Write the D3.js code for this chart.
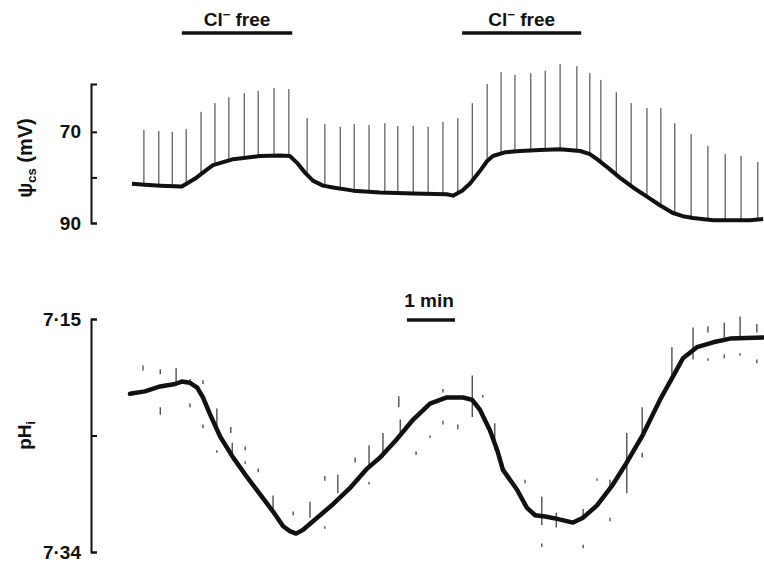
<!DOCTYPE html>
<html>
<head>
<meta charset="utf-8">
<script src="https://cdn.jsdelivr.net/npm/d3@7.9.0/dist/d3.min.js"></script>
<style>
  html, body { margin: 0; padding: 0; background: #fff; }
  svg { display: block; }
  text { font-family: "Liberation Sans", Arial, sans-serif; font-weight: bold; fill: #111; }
</style>
</head>
<body>
<div id="chart"></div>
<script>
// time in minutes, membrane potential in mV (psi_cs), pHi
const psiTrace = [
  [0.04, 81.4], [0.31, 81.6], [0.63, 81.8], [1.08, 82.0], [1.35, 80.3], [1.56, 78.6],
  [1.73, 77.3], [2.15, 76.0], [2.71, 75.3], [3.13, 75.2], [3.33, 75.3], [3.48, 76.8],
  [3.65, 79.0], [3.81, 80.7], [4.02, 81.8], [4.23, 82.2], [4.65, 82.9], [5.21, 83.3],
  [5.90, 83.5], [6.60, 83.7], [6.73, 84.0], [6.92, 82.9], [7.08, 81.4], [7.29, 78.6],
  [7.44, 76.4], [7.56, 75.3], [7.81, 74.5], [8.13, 74.2], [8.54, 74.0], [8.96, 73.8],
  [9.38, 74.2], [9.58, 74.9], [9.73, 76.0], [9.96, 77.9], [10.21, 80.1], [10.48, 82.2],
  [10.77, 84.2], [11.04, 86.1], [11.31, 87.8], [11.52, 88.5], [11.73, 88.9], [12.15, 89.4],
  [12.56, 89.4], [12.92, 89.4], [13.19, 89.1]
];

// spike tips (time, mV) — each spike runs down to the trace
const psiSpikes = [
  [0.29, 69.6], [0.60, 69.8], [0.88, 70.0], [1.17, 69.4], [1.48, 65.6], [1.77, 63.7],
  [2.06, 62.4], [2.38, 61.5], [2.67, 61.0], [3.00, 60.4], [3.31, 60.6], [3.69, 67.0],
  [4.06, 68.3], [4.38, 68.9], [4.67, 68.3], [4.98, 68.5], [5.31, 68.1], [5.58, 68.7],
  [5.90, 68.7], [6.21, 68.9], [6.52, 67.8], [6.83, 67.0], [7.13, 63.7], [7.44, 59.5],
  [7.73, 56.9], [8.02, 57.5], [8.35, 57.1], [8.65, 56.6], [8.96, 55.1], [9.31, 55.6],
  [9.58, 57.1], [9.81, 58.6], [10.13, 61.3], [10.44, 63.7], [10.77, 64.8], [11.06, 64.8],
  [11.35, 68.1], [11.69, 70.5], [12.04, 73.1], [12.40, 74.9], [12.73, 75.3], [13.08, 76.6]
];

const phTrace = [
  [0.00, 7.211], [0.31, 7.209], [0.63, 7.205], [0.94, 7.203], [1.08, 7.201], [1.25, 7.202],
  [1.40, 7.206], [1.52, 7.214], [1.67, 7.228], [1.88, 7.246], [2.15, 7.263], [2.44, 7.279],
  [2.71, 7.293], [2.98, 7.307], [3.19, 7.319], [3.33, 7.323], [3.46, 7.325], [3.60, 7.322],
  [3.90, 7.312], [4.23, 7.301], [4.58, 7.288], [4.94, 7.272], [5.21, 7.263], [5.56, 7.248],
  [5.90, 7.232], [6.25, 7.219], [6.60, 7.214], [6.94, 7.214], [7.13, 7.216], [7.29, 7.224],
  [7.50, 7.241], [7.65, 7.257], [7.77, 7.273], [8.06, 7.289], [8.27, 7.304], [8.44, 7.310],
  [8.65, 7.311], [8.90, 7.313], [9.23, 7.316], [9.44, 7.312], [9.73, 7.302], [10.06, 7.285],
  [10.35, 7.267], [10.69, 7.244], [11.04, 7.216], [11.31, 7.197], [11.52, 7.182], [11.81, 7.173],
  [12.15, 7.169], [12.50, 7.166], [13.19, 7.165]
];

// short artefact marks on the pH record (time, pH from, pH to)
const phMarks = [
  [0.27, 7.188, 7.192], [0.63, 7.191, 7.195], [0.63, 7.222, 7.228], [0.96, 7.190, 7.204],
  [1.25, 7.199, 7.201], [1.25, 7.219, 7.222], [1.52, 7.200, 7.203], [1.52, 7.236, 7.239],
  [1.81, 7.223, 7.238], [1.81, 7.257, 7.259], [2.10, 7.238, 7.243], [2.13, 7.251, 7.262],
  [2.40, 7.254, 7.257], [2.40, 7.266, 7.268], [2.67, 7.272, 7.275], [2.98, 7.294, 7.306],
  [3.40, 7.307, 7.310], [3.75, 7.299, 7.312], [4.06, 7.278, 7.282], [4.06, 7.319, 7.321],
  [4.33, 7.277, 7.292], [4.69, 7.263, 7.267], [4.98, 7.253, 7.269], [4.98, 7.283, 7.285],
  [5.27, 7.243, 7.263], [5.60, 7.213, 7.222], [5.63, 7.232, 7.243], [5.96, 7.258, 7.261],
  [6.25, 7.245, 7.247], [6.52, 7.207, 7.210], [6.52, 7.233, 7.236], [6.83, 7.236, 7.240],
  [7.13, 7.196, 7.230], [7.35, 7.212, 7.214], [7.60, 7.235, 7.257], [8.23, 7.281, 7.284],
  [8.58, 7.295, 7.318], [8.58, 7.333, 7.336], [8.88, 7.308, 7.320], [9.44, 7.305, 7.314],
  [9.44, 7.334, 7.337], [9.73, 7.280, 7.282], [10.00, 7.281, 7.289], [10.00, 7.312, 7.315],
  [10.35, 7.243, 7.292], [10.67, 7.222, 7.243], [10.67, 7.259, 7.263], [11.29, 7.173, 7.200],
  [11.73, 7.157, 7.183], [12.04, 7.156, 7.161], [12.04, 7.182, 7.184], [12.38, 7.153, 7.165],
  [12.38, 7.179, 7.182], [12.71, 7.148, 7.165], [12.71, 7.178, 7.180], [13.06, 7.154, 7.161],
  [13.06, 7.183, 7.186]
];

const clFreePeriods = [[1.08, 3.38], [6.92, 9.40]];
const scaleBarStart = 5.77; // 1 min
const psiTicks = [70, 80, 90];
const psiTickLabels = ['70', '', '90'];
const phTicks = [7.15, 7.245, 7.34];
const phTickLabels = ['7·15', '', '7·34'];

const width = 764;
const height = 566;

const svg = d3.select('#chart')
  .append('svg')
  .attr('width', width)
  .attr('height', height);

const x = d3.scaleLinear().domain([0, 13.2]).range([130, 763.6]);
const yPsi = d3.scaleLinear().domain([59.5, 90]).range([84, 223]);
const yPh = d3.scaleLinear().domain([7.15, 7.34]).range([319, 552]);

const axisX = 91;

function styleAxis(g) {
  g.select('.domain').attr('stroke', '#111').attr('stroke-width', 2);
  g.selectAll('.tick line').attr('stroke', '#111').attr('stroke-width', 2);
  g.selectAll('.tick text')
    .attr('font-size', 19)
    .attr('font-family', '"Liberation Sans", Arial, sans-serif')
    .attr('font-weight', 'bold')
    .attr('fill', '#111');
}

svg.append('g')
  .attr('transform', `translate(${axisX},0)`)
  .call(d3.axisLeft(yPsi).tickValues(psiTicks).tickSize(-6).tickPadding(10)
    .tickFormat((d, i) => psiTickLabels[i]))
  .call(styleAxis);

svg.append('g')
  .attr('transform', `translate(${axisX},0)`)
  .call(d3.axisLeft(yPh).tickValues(phTicks).tickSize(-6).tickPadding(10)
    .tickFormat((d, i) => phTickLabels[i]))
  .call(styleAxis);

// axis titles
const psiTitle = svg.append('text')
  .attr('transform', 'translate(32,158) rotate(-90)')
  .attr('text-anchor', 'middle')
  .attr('font-size', 20);
psiTitle.append('tspan').text('ψ');
psiTitle.append('tspan').attr('font-size', 13).attr('dy', 4).text('cs');
psiTitle.append('tspan').attr('dy', -4).text(' (mV)');

const phTitle = svg.append('text')
  .attr('transform', `translate(31,${yPh(7.245)}) rotate(-90)`)
  .attr('text-anchor', 'middle')
  .attr('font-size', 19);
phTitle.append('tspan').text('pH');
phTitle.append('tspan').attr('font-size', 12).attr('dy', 4).text('i');

// Cl- free bars
const bars = svg.append('g');
clFreePeriods.forEach(([t0, t1]) => {
  bars.append('line')
    .attr('x1', x(t0)).attr('x2', x(t1))
    .attr('y1', 33).attr('y2', 33)
    .attr('stroke', '#111').attr('stroke-width', 3.5);
  const lbl = bars.append('text')
    .attr('x', (x(t0) + x(t1)) / 2)
    .attr('y', 26)
    .attr('text-anchor', 'middle')
    .attr('font-size', 19);
  lbl.append('tspan').text('Cl');
  lbl.append('tspan').attr('font-size', 13).attr('dy', -7).text('−');
  lbl.append('tspan').attr('dy', 7).text(' free');
});

// 1 min scale bar
svg.append('line')
  .attr('x1', x(scaleBarStart)).attr('x2', x(scaleBarStart + 1))
  .attr('y1', 320).attr('y2', 320)
  .attr('stroke', '#111').attr('stroke-width', 3.5);
svg.append('text')
  .attr('x', (x(scaleBarStart) + x(scaleBarStart + 1)) / 2 - 2)
  .attr('y', 307)
  .attr('text-anchor', 'middle')
  .attr('font-size', 19)
  .text('1 min');

// psi spikes
const psiAt = (t) => {
  const i = d3.bisector((d) => d[0]).left(psiTrace, t);
  const a = psiTrace[Math.max(0, i - 1)], b = psiTrace[Math.min(psiTrace.length - 1, i)];
  if (a === b) return a[1];
  return a[1] + (b[1] - a[1]) * (t - a[0]) / (b[0] - a[0]);
};

svg.append('g')
  .selectAll('line')
  .data(psiSpikes)
  .join('line')
  .attr('x1', (d) => x(d[0])).attr('x2', (d) => x(d[0]))
  .attr('y1', (d) => yPsi(d[1]))
  .attr('y2', (d) => yPsi(psiAt(d[0])))
  .attr('stroke', '#333')
  .attr('stroke-width', 1);

svg.append('path')
  .datum(psiTrace)
  .attr('d', d3.line().x((d) => x(d[0])).y((d) => yPsi(d[1])))
  .attr('fill', 'none')
  .attr('stroke', '#111')
  .attr('stroke-width', 4)
  .attr('stroke-linejoin', 'round');

// pH marks
svg.append('g')
  .selectAll('line')
  .data(phMarks)
  .join('line')
  .attr('x1', (d) => x(d[0])).attr('x2', (d) => x(d[0]))
  .attr('y1', (d) => yPh(d[1]))
  .attr('y2', (d) => yPh(d[2]))
  .attr('stroke', '#333')
  .attr('stroke-width', 1.2);

svg.append('path')
  .datum(phTrace)
  .attr('d', d3.line().x((d) => x(d[0])).y((d) => yPh(d[1])))
  .attr('fill', 'none')
  .attr('stroke', '#111')
  .attr('stroke-width', 4.5)
  .attr('stroke-linejoin', 'round')
  .attr('stroke-linecap', 'round');
</script>
</body>
</html>
